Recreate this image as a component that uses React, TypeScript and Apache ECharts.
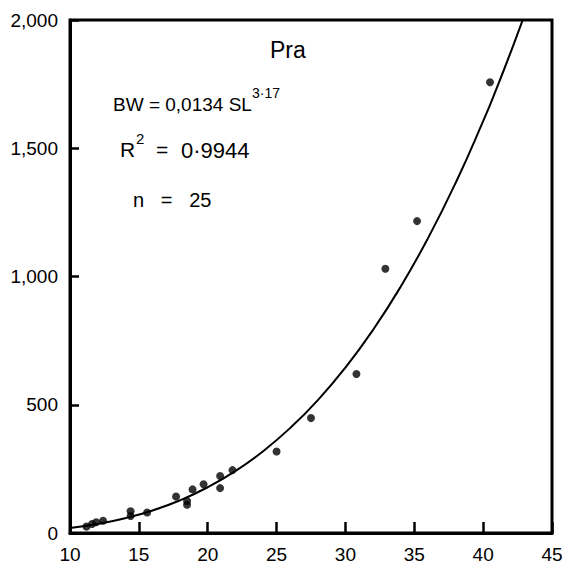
import React, { useEffect, useRef } from "react";
import * as echarts from "echarts";

const slValues = [11.2, 11.6, 11.9, 12.4, 14.4, 14.4, 15.6, 17.7, 18.5, 18.5, 18.9, 19.7, 20.9, 20.9, 21.8, 25.0, 27.5, 30.8, 32.9, 35.2, 40.5];
const bwValues = [25, 35, 42, 48, 85, 66, 80, 142, 125, 110, 170, 190, 222, 175, 245, 318, 448, 620, 1030, 1216, 1757];

// Fitted power curve printed on the chart: BW = 0.0134 SL^3.17
const fitA = 0.0134;
const fitB = 3.17;
const curveSL = [10, 12, 14, 16, 18, 20, 22, 24, 26, 28, 30, 32, 34, 36, 38, 40, 41, 42, 43];

const xTicks = [10, 15, 20, 25, 30, 35, 40, 45];
const yTickLabels = ["0", "500", "1,000", "1,500", "2,000"];

const FONT = "Liberation Sans";
const INK = "#000";

export default function App() {
  const ref = useRef<HTMLDivElement>(null);

  useEffect(() => {
    if (!ref.current) return;
    const chart = echarts.init(ref.current, null, { renderer: "svg" });
    const scatterData = slValues.map((x, i) => [x, bwValues[i]]);
    const curveData = curveSL.map((x) => [x, fitA * Math.pow(x, fitB)]);
    const xMin = xTicks[0];
    const xMax = xTicks[xTicks.length - 1];

    chart.setOption({
      animation: false,
      grid: {
        left: 70,
        right: 16,
        top: 20,
        bottom: 49,
        show: true,
        borderColor: INK,
        borderWidth: 3,
      },
      xAxis: {
        type: "value",
        min: xMin,
        max: xMax,
        interval: 5,
        axisLine: { show: true, onZero: false, lineStyle: { color: INK, width: 3 } },
        axisTick: { show: true, inside: true, length: 11, lineStyle: { color: INK, width: 2.5 } },
        axisLabel: { color: INK, fontFamily: FONT, fontSize: 19, margin: 12 },
        splitLine: { show: false },
      },
      yAxis: {
        type: "value",
        min: 0,
        max: 2000,
        interval: 500,
        axisLine: { show: true, onZero: false, lineStyle: { color: INK, width: 3 } },
        axisTick: { show: true, inside: true, length: 9, lineStyle: { color: INK, width: 2.5 } },
        axisLabel: {
          color: INK,
          fontFamily: FONT,
          fontSize: 19,
          margin: 12,
          formatter: (v: number) => yTickLabels[Math.round(v / 500)] ?? String(v),
        },
        splitLine: { show: false },
      },
      series: [
        {
          type: "line",
          data: curveData,
          smooth: true,
          showSymbol: false,
          clip: true,
          lineStyle: { color: INK, width: 2 },
          z: 2,
        },
        {
          type: "scatter",
          data: scatterData,
          symbol: "circle",
          symbolSize: 8,
          itemStyle: { color: INK },
          z: 3,
        },
      ],
      graphic: [
        {
          type: "text",
          left: 270,
          top: 38,
          style: { text: "Pra", fontFamily: FONT, fontSize: 23, fill: INK },
        },
        {
          type: "text",
          left: 113,
          top: 95,
          style: { text: "BW = 0,0134 SL", fontFamily: FONT, fontSize: 19, fill: INK },
        },
        {
          type: "text",
          left: 252,
          top: 86,
          style: { text: "3·17", fontFamily: FONT, fontSize: 14, fill: INK },
        },
        {
          type: "text",
          left: 120,
          top: 139,
          style: { text: "R", fontFamily: FONT, fontSize: 21, fill: INK },
        },
        {
          type: "text",
          left: 136,
          top: 131,
          style: { text: "2", fontFamily: FONT, fontSize: 15, fill: INK },
        },
        {
          type: "text",
          left: 156,
          top: 139,
          style: { text: "=", fontFamily: FONT, fontSize: 21, fill: INK },
        },
        {
          type: "text",
          left: 181,
          top: 139,
          style: { text: "0·9944", fontFamily: FONT, fontSize: 22, fill: INK },
        },
        {
          type: "text",
          left: 133,
          top: 190,
          style: { text: "n   =   25", fontFamily: FONT, fontSize: 20, fill: INK },
        },
      ],
    });

    return () => chart.dispose();
  }, []);

  return (
    <div
      ref={ref}
      style={{ position: "fixed", left: 0, top: 0, width: 568, height: 582, background: "#fff" }}
    />
  );
}
